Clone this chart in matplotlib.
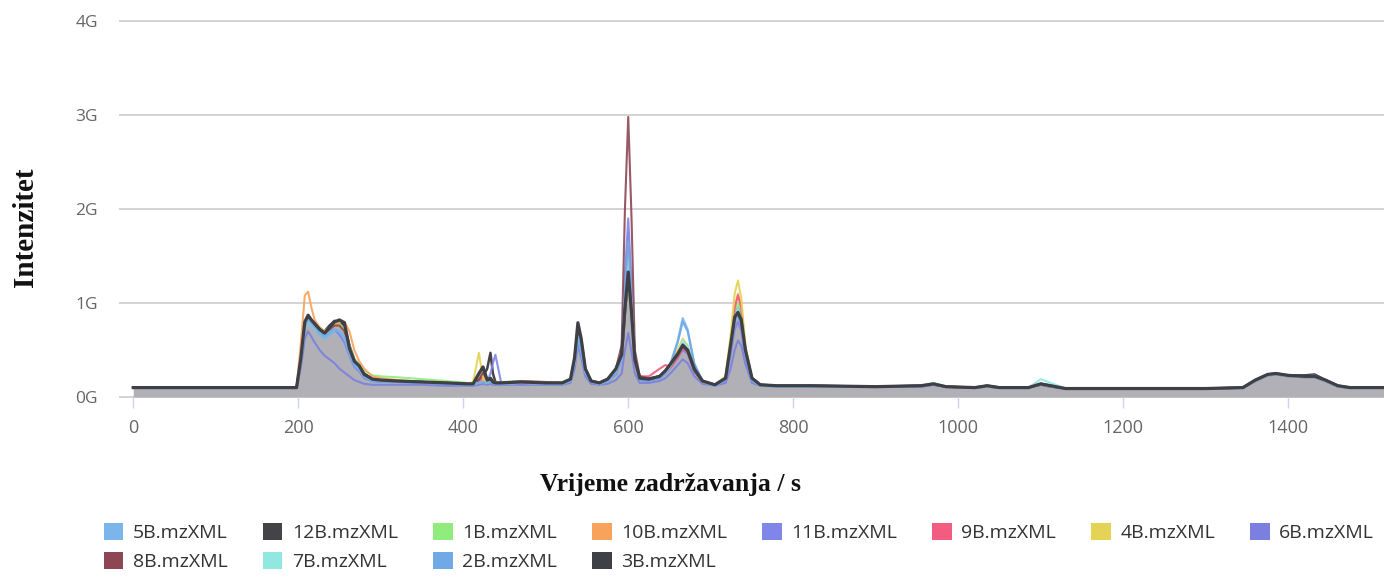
import matplotlib
matplotlib.use("Agg")
import matplotlib.pyplot as plt
from matplotlib.patches import Patch

# retention time grid (s)
rt = [0, 60, 120, 180, 198,
      203, 208, 212, 216, 220, 226, 232, 238, 244, 250, 256, 262, 268, 274, 280, 290, 300,
      320, 350, 380, 405,
      412, 419, 424, 429, 433, 436, 439, 446,
      470, 500, 520, 530,
      535, 539, 543, 548, 555, 565, 575,
      585, 592, 596, 600, 604, 608, 614, 625,
      638, 645, 652, 660, 666, 672, 680, 690, 705,
      718, 724, 729, 733, 737, 742, 750, 760, 780,
      820, 900, 955, 970, 985, 1020, 1035, 1050, 1085, 1100, 1112, 1130,
      1200, 1300, 1345, 1360, 1375, 1385, 1400, 1420, 1432, 1445, 1460, 1475, 1520]

# intensities in G
s5B = [0.10, 0.10, 0.10, 0.10, 0.10,
       0.35, 0.72, 0.80, 0.76, 0.72, 0.66, 0.62, 0.66, 0.70, 0.68, 0.62, 0.45, 0.34, 0.28, 0.21, 0.17, 0.16,
       0.16, 0.15, 0.14, 0.13,
       0.13, 0.15, 0.16, 0.15, 0.16, 0.15, 0.14, 0.14,
       0.15, 0.14, 0.14, 0.17,
       0.38, 0.66, 0.52, 0.26, 0.16, 0.14, 0.17,
       0.25, 0.40, 1.20, 1.75, 1.10, 0.40, 0.18, 0.17,
       0.20, 0.26, 0.38, 0.60, 0.84, 0.72, 0.36, 0.17, 0.12,
       0.18, 0.50, 0.82, 0.90, 0.80, 0.45, 0.18, 0.12, 0.11,
       0.11, 0.11, 0.11, 0.13, 0.11, 0.10, 0.11, 0.10, 0.10, 0.13, 0.11, 0.09,
       0.09, 0.09, 0.10, 0.17, 0.23, 0.24, 0.22, 0.21, 0.21, 0.17, 0.11, 0.10, 0.10]
s12B = [0.10, 0.10, 0.10, 0.10, 0.10,
        0.38, 0.78, 0.85, 0.80, 0.76, 0.70, 0.70, 0.76, 0.81, 0.80, 0.76, 0.55, 0.40, 0.34, 0.25, 0.19, 0.18,
        0.17, 0.16, 0.15, 0.14,
        0.14, 0.18, 0.22, 0.30, 0.47, 0.25, 0.16, 0.15,
        0.16, 0.15, 0.15, 0.18,
        0.40, 0.75, 0.60, 0.30, 0.17, 0.15, 0.19,
        0.28, 0.42, 0.90, 1.30, 0.88, 0.40, 0.20, 0.19,
        0.22, 0.27, 0.35, 0.45, 0.56, 0.50, 0.30, 0.17, 0.13,
        0.20, 0.55, 0.85, 0.88, 0.80, 0.50, 0.20, 0.13, 0.12,
        0.12, 0.11, 0.12, 0.14, 0.11, 0.10, 0.12, 0.10, 0.10, 0.14, 0.12, 0.09,
        0.09, 0.09, 0.10, 0.18, 0.24, 0.25, 0.23, 0.23, 0.24, 0.18, 0.12, 0.10, 0.10]
s1B = [0.10, 0.10, 0.10, 0.10, 0.10,
       0.38, 0.78, 0.85, 0.82, 0.78, 0.74, 0.70, 0.74, 0.78, 0.78, 0.72, 0.55, 0.40, 0.35, 0.28, 0.23, 0.22,
       0.21, 0.19, 0.17, 0.15,
       0.15, 0.17, 0.18, 0.16, 0.17, 0.16, 0.16, 0.16,
       0.17, 0.16, 0.16, 0.19,
       0.38, 0.65, 0.50, 0.26, 0.17, 0.15, 0.19,
       0.28, 0.42, 1.00, 1.45, 0.95, 0.40, 0.20, 0.19,
       0.22, 0.27, 0.34, 0.44, 0.52, 0.48, 0.28, 0.16, 0.13,
       0.20, 0.55, 0.90, 1.00, 0.88, 0.50, 0.19, 0.13, 0.12,
       0.12, 0.11, 0.12, 0.13, 0.11, 0.10, 0.11, 0.10, 0.10, 0.13, 0.11, 0.09,
       0.09, 0.09, 0.10, 0.17, 0.23, 0.24, 0.22, 0.21, 0.21, 0.17, 0.11, 0.10, 0.10]
s10B = [0.10, 0.10, 0.10, 0.10, 0.10,
        0.55, 1.08, 1.12, 0.95, 0.82, 0.74, 0.70, 0.72, 0.76, 0.80, 0.80, 0.70, 0.50, 0.38, 0.30, 0.22, 0.20,
        0.18, 0.16, 0.15, 0.14,
        0.14, 0.16, 0.18, 0.16, 0.17, 0.16, 0.15, 0.15,
        0.16, 0.15, 0.15, 0.18,
        0.38, 0.68, 0.55, 0.28, 0.17, 0.15, 0.19,
        0.28, 0.42, 1.00, 1.40, 0.95, 0.40, 0.20, 0.19,
        0.22, 0.27, 0.34, 0.44, 0.54, 0.50, 0.28, 0.16, 0.13,
        0.20, 0.55, 0.95, 1.10, 0.95, 0.52, 0.19, 0.13, 0.12,
        0.12, 0.11, 0.12, 0.13, 0.11, 0.10, 0.11, 0.10, 0.10, 0.13, 0.11, 0.09,
        0.09, 0.09, 0.10, 0.17, 0.23, 0.24, 0.22, 0.21, 0.21, 0.17, 0.11, 0.10, 0.10]
s11B = [0.10, 0.10, 0.10, 0.10, 0.10,
        0.36, 0.74, 0.82, 0.78, 0.74, 0.68, 0.66, 0.70, 0.72, 0.66, 0.58, 0.44, 0.32, 0.27, 0.20, 0.17, 0.16,
        0.16, 0.15, 0.14, 0.13,
        0.13, 0.14, 0.15, 0.16, 0.25, 0.36, 0.45, 0.15,
        0.15, 0.14, 0.14, 0.17,
        0.36, 0.62, 0.50, 0.25, 0.16, 0.14, 0.17,
        0.24, 0.40, 1.30, 1.90, 1.20, 0.40, 0.18, 0.17,
        0.20, 0.25, 0.32, 0.42, 0.50, 0.46, 0.27, 0.16, 0.12,
        0.18, 0.45, 0.72, 0.80, 0.70, 0.42, 0.18, 0.12, 0.11,
        0.11, 0.11, 0.11, 0.13, 0.11, 0.10, 0.11, 0.10, 0.10, 0.13, 0.11, 0.09,
        0.09, 0.09, 0.10, 0.17, 0.23, 0.24, 0.22, 0.22, 0.23, 0.17, 0.11, 0.10, 0.10]
s9B = [0.10, 0.10, 0.10, 0.10, 0.10,
       0.36, 0.75, 0.83, 0.79, 0.75, 0.70, 0.68, 0.72, 0.76, 0.76, 0.70, 0.50, 0.36, 0.30, 0.22, 0.18, 0.17,
       0.17, 0.16, 0.15, 0.14,
       0.14, 0.16, 0.22, 0.16, 0.16, 0.15, 0.15, 0.15,
       0.17, 0.16, 0.15, 0.18,
       0.38, 0.66, 0.52, 0.27, 0.17, 0.15, 0.19,
       0.28, 0.42, 1.10, 1.60, 1.00, 0.40, 0.22, 0.22,
       0.30, 0.34, 0.32, 0.42, 0.52, 0.48, 0.28, 0.16, 0.13,
       0.20, 0.55, 0.95, 1.08, 0.95, 0.50, 0.19, 0.13, 0.12,
       0.12, 0.11, 0.12, 0.13, 0.11, 0.10, 0.11, 0.10, 0.10, 0.13, 0.11, 0.09,
       0.09, 0.09, 0.10, 0.17, 0.23, 0.24, 0.22, 0.21, 0.21, 0.17, 0.11, 0.10, 0.10]
s4B = [0.10, 0.10, 0.10, 0.10, 0.10,
       0.36, 0.76, 0.84, 0.80, 0.76, 0.70, 0.68, 0.72, 0.76, 0.76, 0.70, 0.50, 0.36, 0.30, 0.22, 0.18, 0.17,
       0.17, 0.16, 0.15, 0.14,
       0.16, 0.47, 0.20, 0.16, 0.16, 0.15, 0.15, 0.15,
       0.16, 0.15, 0.15, 0.18,
       0.38, 0.66, 0.52, 0.27, 0.17, 0.15, 0.19,
       0.28, 0.42, 0.95, 1.25, 0.85, 0.38, 0.20, 0.19,
       0.22, 0.27, 0.36, 0.50, 0.62, 0.55, 0.30, 0.17, 0.13,
       0.22, 0.65, 1.10, 1.24, 1.05, 0.55, 0.20, 0.13, 0.12,
       0.12, 0.11, 0.12, 0.13, 0.11, 0.10, 0.11, 0.10, 0.10, 0.13, 0.11, 0.09,
       0.09, 0.09, 0.10, 0.17, 0.23, 0.24, 0.22, 0.21, 0.21, 0.17, 0.11, 0.10, 0.10]
s6B = [0.10, 0.10, 0.10, 0.10, 0.10,
       0.30, 0.62, 0.70, 0.64, 0.58, 0.50, 0.44, 0.40, 0.36, 0.30, 0.26, 0.22, 0.18, 0.16, 0.14, 0.13, 0.13,
       0.13, 0.13, 0.12, 0.12,
       0.12, 0.13, 0.14, 0.13, 0.14, 0.13, 0.13, 0.13,
       0.13, 0.13, 0.13, 0.15,
       0.30, 0.55, 0.42, 0.22, 0.14, 0.13, 0.14,
       0.18, 0.25, 0.50, 0.68, 0.48, 0.25, 0.15, 0.15,
       0.17, 0.20, 0.26, 0.34, 0.40, 0.36, 0.22, 0.14, 0.12,
       0.15, 0.30, 0.50, 0.60, 0.55, 0.35, 0.15, 0.12, 0.11,
       0.11, 0.11, 0.11, 0.13, 0.11, 0.10, 0.11, 0.10, 0.10, 0.13, 0.11, 0.09,
       0.09, 0.09, 0.10, 0.17, 0.23, 0.24, 0.22, 0.21, 0.21, 0.17, 0.11, 0.10, 0.10]
s8B = [0.10, 0.10, 0.10, 0.10, 0.10,
       0.36, 0.76, 0.84, 0.80, 0.76, 0.70, 0.68, 0.72, 0.76, 0.76, 0.70, 0.50, 0.36, 0.30, 0.22, 0.18, 0.17,
       0.17, 0.16, 0.15, 0.14,
       0.14, 0.18, 0.26, 0.20, 0.17, 0.15, 0.15, 0.15,
       0.16, 0.15, 0.15, 0.18,
       0.38, 0.68, 0.54, 0.27, 0.17, 0.15, 0.19,
       0.30, 0.55, 2.00, 2.98, 1.90, 0.50, 0.22, 0.20,
       0.22, 0.27, 0.34, 0.44, 0.54, 0.48, 0.28, 0.16, 0.13,
       0.20, 0.50, 0.85, 0.95, 0.85, 0.48, 0.19, 0.13, 0.12,
       0.12, 0.11, 0.12, 0.13, 0.11, 0.10, 0.11, 0.10, 0.10, 0.13, 0.11, 0.09,
       0.09, 0.09, 0.10, 0.17, 0.23, 0.24, 0.22, 0.21, 0.21, 0.17, 0.11, 0.10, 0.10]
s7B = [0.10, 0.10, 0.10, 0.10, 0.10,
       0.35, 0.73, 0.81, 0.77, 0.73, 0.68, 0.64, 0.68, 0.72, 0.70, 0.64, 0.47, 0.35, 0.29, 0.22, 0.18, 0.17,
       0.17, 0.16, 0.15, 0.14,
       0.14, 0.15, 0.16, 0.15, 0.16, 0.15, 0.14, 0.14,
       0.15, 0.14, 0.14, 0.17,
       0.36, 0.64, 0.50, 0.26, 0.16, 0.14, 0.17,
       0.26, 0.40, 1.05, 1.50, 0.98, 0.40, 0.19, 0.18,
       0.21, 0.26, 0.34, 0.46, 0.60, 0.54, 0.30, 0.16, 0.12,
       0.19, 0.52, 0.85, 0.95, 0.84, 0.47, 0.18, 0.12, 0.11,
       0.11, 0.11, 0.12, 0.15, 0.11, 0.10, 0.11, 0.10, 0.10, 0.19, 0.15, 0.09,
       0.09, 0.09, 0.10, 0.17, 0.23, 0.24, 0.22, 0.21, 0.21, 0.17, 0.11, 0.10, 0.10]
s2B = [0.10, 0.10, 0.10, 0.10, 0.10,
       0.36, 0.74, 0.82, 0.78, 0.74, 0.68, 0.64, 0.68, 0.72, 0.70, 0.64, 0.46, 0.34, 0.28, 0.21, 0.17, 0.16,
       0.16, 0.15, 0.14, 0.13,
       0.13, 0.15, 0.16, 0.15, 0.16, 0.15, 0.14, 0.14,
       0.15, 0.14, 0.14, 0.17,
       0.37, 0.64, 0.50, 0.26, 0.16, 0.14, 0.17,
       0.25, 0.40, 1.15, 1.65, 1.05, 0.40, 0.18, 0.17,
       0.20, 0.26, 0.37, 0.58, 0.80, 0.70, 0.35, 0.17, 0.12,
       0.18, 0.50, 0.80, 0.88, 0.78, 0.45, 0.18, 0.12, 0.11,
       0.11, 0.11, 0.11, 0.13, 0.11, 0.10, 0.11, 0.10, 0.10, 0.13, 0.11, 0.09,
       0.09, 0.09, 0.10, 0.17, 0.23, 0.24, 0.22, 0.21, 0.21, 0.17, 0.11, 0.10, 0.10]
s3B = [0.10, 0.10, 0.10, 0.10, 0.10,
       0.40, 0.80, 0.87, 0.82, 0.78, 0.72, 0.68, 0.74, 0.80, 0.82, 0.79, 0.52, 0.38, 0.33, 0.24, 0.19, 0.18,
       0.17, 0.16, 0.15, 0.14,
       0.14, 0.25, 0.32, 0.18, 0.20, 0.16, 0.15, 0.15,
       0.16, 0.15, 0.15, 0.19,
       0.42, 0.79, 0.62, 0.30, 0.17, 0.15, 0.19,
       0.30, 0.45, 0.95, 1.33, 0.90, 0.40, 0.20, 0.19,
       0.22, 0.28, 0.36, 0.46, 0.55, 0.50, 0.30, 0.17, 0.13,
       0.20, 0.55, 0.85, 0.90, 0.82, 0.50, 0.20, 0.13, 0.12,
       0.12, 0.11, 0.12, 0.14, 0.11, 0.10, 0.12, 0.10, 0.10, 0.14, 0.12, 0.09,
       0.09, 0.09, 0.10, 0.18, 0.24, 0.25, 0.23, 0.22, 0.22, 0.18, 0.12, 0.10, 0.10]

names = ["5B.mzXML", "12B.mzXML", "1B.mzXML", "10B.mzXML", "11B.mzXML", "9B.mzXML",
         "4B.mzXML", "6B.mzXML", "8B.mzXML", "7B.mzXML", "2B.mzXML", "3B.mzXML"]
series = [s5B, s12B, s1B, s10B, s11B, s9B, s4B, s6B, s8B, s7B, s2B, s3B]
colors = ["#7cb5ec", "#434348", "#90ed7d", "#f7a35c", "#8085e9", "#f15c80",
          "#e4d354", "#7b80e0", "#8d4653", "#91e8e1", "#6fa9e6", "#3f3f46"]

yticks = [0, 1, 2, 3, 4]
ytick_labels = ["0G", "1G", "2G", "3G", "4G"]
xticks = [0, 200, 400, 600, 800, 1000, 1200, 1400]

fig = plt.figure(figsize=(13.84, 5.76), dpi=100)
ax = fig.add_axes([120 / 1384, 1 - 397 / 576, 1 - 120 / 1384, (397 - 21) / 576])

ax.set_xlim(-16, 1516)
ax.set_ylim(0, 4)

# grid
for yv in yticks:
    ax.axhline(yv, color="#d3d3d3", lw=1.4, zorder=0, clip_on=False)

# gray area under the last series
ax.fill_between(rt, 0, s3B, color="#b0b0b6", zorder=1, lw=0)

for i, (s, c, n) in enumerate(zip(series, colors, names)):
    if n == "3B.mzXML":
        ax.plot(rt, s, color=c, lw=2.3, zorder=10, solid_joinstyle="round")
    elif n == "12B.mzXML":
        ax.plot(rt, s, color=c, lw=1.8, zorder=3 + i * 0.1, solid_joinstyle="round")
    else:
        ax.plot(rt, s, color=c, lw=1.5, alpha=0.9, zorder=3 + i * 0.1, solid_joinstyle="round")

for sp in ax.spines.values():
    sp.set_visible(False)

ax.set_yticks(yticks)
ax.set_yticklabels(ytick_labels)
ax.set_xticks(xticks)
ax.set_xticklabels([str(v) for v in xticks])
ax.tick_params(axis="y", length=0, pad=16, labelsize=12.5, labelcolor="#666666")
ax.tick_params(axis="x", length=8, width=1, color="#ccd6eb", direction="out",
               pad=8, labelsize=13, labelcolor="#666666")
for lbl in ax.get_xticklabels() + ax.get_yticklabels():
    lbl.set_family("Open Sans")

fig.text(25 / 1384, 1 - 227 / 576, "Intenzitet", rotation=90, ha="center", va="center",
         family="Liberation Serif", fontweight="bold", fontsize=21, color="#111111")
fig.text(670 / 1384, 1 - 484 / 576, "Vrijeme zadržavanja / s", ha="center", va="center",
         family="Liberation Serif", fontweight="bold", fontsize=18.5, color="#111111")

# legend (column-major order so it reads row by row)
handles = {n: Patch(facecolor=c, edgecolor="none") for n, c in zip(names, colors)}
order = ["5B.mzXML", "8B.mzXML", "12B.mzXML", "7B.mzXML", "1B.mzXML", "2B.mzXML",
         "10B.mzXML", "3B.mzXML", "11B.mzXML", "9B.mzXML", "4B.mzXML", "6B.mzXML"]
leg = fig.legend([handles[n] for n in order], order, loc="upper left",
                 bbox_to_anchor=(104 / 1384, 1 - 523 / 576), ncol=8, frameon=False,
                 prop={"family": "Open Sans", "size": 14}, handlelength=1.0, handleheight=1.0,
                 handletextpad=0.5, columnspacing=1.8, labelspacing=0.5, borderpad=0,
                 borderaxespad=0)
for t in leg.get_texts():
    t.set_color("#333333")

fig.savefig("out.png", dpi=100)
